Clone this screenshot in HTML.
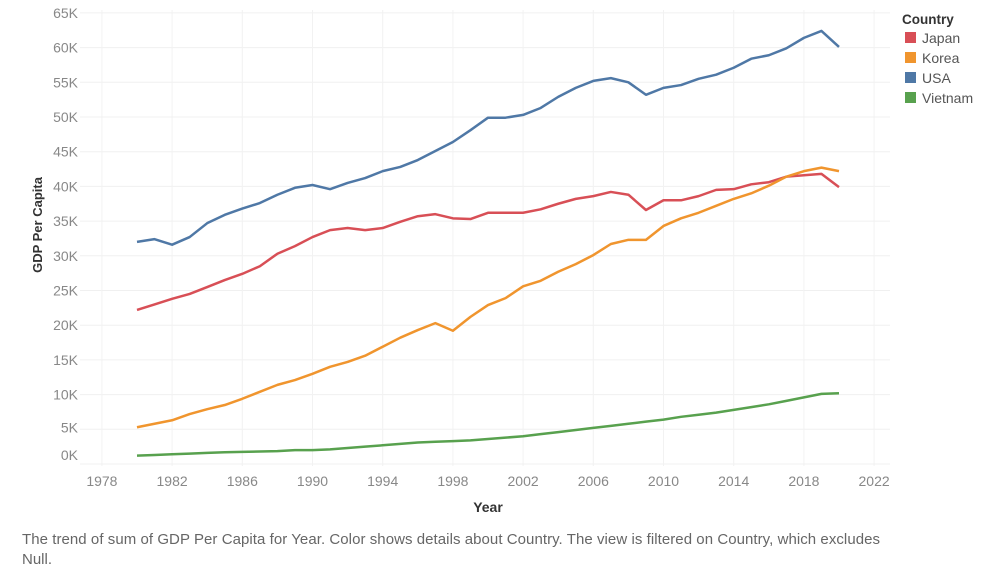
<!DOCTYPE html>
<html><head><meta charset="utf-8"><style>
body{margin:0;background:#fff;font-family:"Liberation Sans",sans-serif;}
svg{display:block}
.tick{fill:#888;font-size:14px}
</style></head><body>
<svg id="chart" width="1000" height="583">
<g id="grid"></g><g id="axes"></g><g id="lines"></g>
<text x="42" y="225" transform="rotate(-90 42 225)" text-anchor="middle" font-size="13" font-weight="bold" fill="#333">GDP Per Capita</text>
<text x="488" y="512" text-anchor="middle" font-size="14" font-weight="bold" fill="#333">Year</text>
<g>
<text x="902" y="24" font-size="13.5" font-weight="bold" fill="#333">Country</text>
<g><rect x="905" y="32" width="11" height="11" fill="#d84f56"/><text x="922" y="43" font-size="14" fill="#555">Japan</text></g>
<g><rect x="905" y="52" width="11" height="11" fill="#f0952e"/><text x="922" y="63" font-size="14" fill="#555">Korea</text></g>
<g><rect x="905" y="72" width="11" height="11" fill="#4f78a6"/><text x="922" y="83" font-size="14" fill="#555">USA</text></g>
<g><rect x="905" y="92" width="11" height="11" fill="#58a14e"/><text x="922" y="103" font-size="14" fill="#555">Vietnam</text></g>
</g>
<text x="22" y="544" font-size="15" fill="#666" textLength="858">The trend of sum of GDP Per Capita for Year.  Color shows details about Country. The view is filtered on Country, which excludes</text>
<text x="22" y="564" font-size="15" fill="#666">Null.</text>
</svg>
<script>
const years=[];for(let y=1980;y<=2020;y++)years.push(y);
const usa=[32,32.4,31.6,32.7,34.7,35.9,36.8,37.6,38.8,39.8,40.2,39.6,40.5,41.2,42.2,42.8,43.8,45.1,46.4,48.1,49.9,49.9,50.3,51.3,52.9,54.2,55.2,55.6,55,53.2,54.2,54.6,55.5,56.1,57.1,58.4,58.9,59.9,61.4,62.4,60.1];
const japan=[22.2,23,23.8,24.5,25.5,26.5,27.4,28.5,30.3,31.4,32.7,33.7,34,33.7,34,34.9,35.7,36,35.4,35.3,36.2,36.2,36.2,36.7,37.5,38.2,38.6,39.2,38.8,36.6,38,38,38.6,39.5,39.6,40.3,40.6,41.4,41.6,41.8,39.9];
const korea=[5.3,5.8,6.3,7.2,7.9,8.5,9.4,10.4,11.4,12.1,13,14,14.7,15.6,16.9,18.2,19.3,20.3,19.2,21.2,22.9,23.9,25.6,26.4,27.7,28.8,30.1,31.7,32.3,32.3,34.3,35.4,36.2,37.2,38.2,39,40.1,41.4,42.2,42.7,42.2];
const vietnam=[1.2,1.3,1.4,1.5,1.6,1.7,1.75,1.8,1.85,2,2,2.1,2.3,2.5,2.7,2.9,3.1,3.2,3.3,3.4,3.6,3.8,4,4.3,4.6,4.9,5.2,5.5,5.8,6.1,6.4,6.8,7.1,7.4,7.8,8.2,8.6,9.1,9.6,10.1,10.2];
const yTicks=[0,5,10,15,20,25,30,35,40,45,50,55,60,65];
const xTicks=[1978,1982,1986,1990,1994,1998,2002,2006,2010,2014,2018,2022];
const X=y=>137+(y-1980)*17.55;
const Y=v=>464-v*6.94;
const NS="http://www.w3.org/2000/svg";
const grid=document.getElementById('grid'),axes=document.getElementById('axes'),lines=document.getElementById('lines');
function mk(tag,attrs,parent){const e=document.createElementNS(NS,tag);for(const k in attrs)e.setAttribute(k,attrs[k]);parent.appendChild(e);return e;}
yTicks.forEach((t,i)=>{
 const l=mk('line',{x1:80,x2:890,y1:Y(t),y2:Y(t),stroke:'#f0f0f0'},grid);
 
 
 let ly=Y(t)+5; if(t===0) ly=Y(t)-4; if(t===5) ly=Y(t)+3;
 const tx=mk('text',{x:78,y:ly,'text-anchor':'end',class:'tick'},axes);tx.textContent=t+'K';
 
 
});
xTicks.forEach(t=>{
 const l=mk('line',{x1:X(t),x2:X(t),y1:10,y2:466,stroke:'#f2f2f2'},grid);
 
 
 const tx=mk('text',{x:X(t),y:486,'text-anchor':'middle',class:'tick'},axes);tx.textContent=t;
 
 
});
const series=[['usa',usa,'#4f78a6'],['japan',japan,'#d84f56'],['korea',korea,'#f0952e'],['vietnam',vietnam,'#58a14e']];
series.forEach(([n,d,c])=>{
 const p=mk('polyline',{points:d.map((v,i)=>X(years[i])+','+Y(v)).join(' '),fill:'none',stroke:c,'stroke-width':2.5,'stroke-linejoin':'round'},lines);
 
 
});
</script>
</body></html>
